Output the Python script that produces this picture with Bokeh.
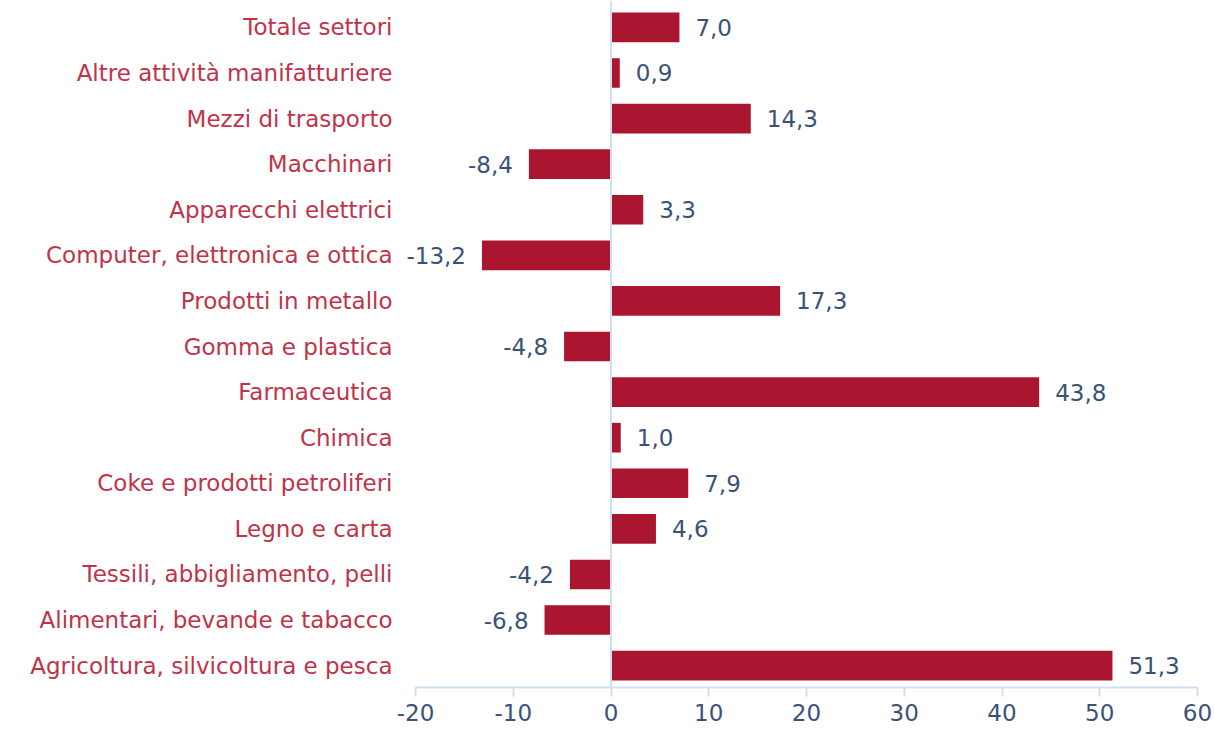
from bokeh.plotting import figure
from bokeh.models import ColumnDataSource, Span, FixedTicker, Range1d, LabelSet
from bokeh.core.properties import value
from bokeh.embed import file_html
from bokeh.resources import INLINE

categories = [
    "Totale settori",
    "Altre attività manifatturiere",
    "Mezzi di trasporto",
    "Macchinari",
    "Apparecchi elettrici",
    "Computer, elettronica e ottica",
    "Prodotti in metallo",
    "Gomma e plastica",
    "Farmaceutica",
    "Chimica",
    "Coke e prodotti petroliferi",
    "Legno e carta",
    "Tessili, abbigliamento, pelli",
    "Alimentari, bevande e tabacco",
    "Agricoltura, silvicoltura e pesca",
]
values = [7.0, 0.9, 14.3, -8.4, 3.3, -13.2, 17.3, -4.8, 43.8, 1.0, 7.9, 4.6, -4.2, -6.8, 51.3]
x_ticks = [-20, -10, 0, 10, 20, 30, 40, 50, 60]
x_tick_labels = ["-20", "-10", "0", "10", "20", "30", "40", "50", "60"]

FONT = "DejaVu Sans"
FS = "23px"
BAR = "#AA1630"
CAT = "#C0334A"
VAL = "#3B5277"
AXIS = "#CFE0F3"

n = len(categories)
ypos = [n - 1 - i for i in range(n)]

fmt = [("%.1f" % v).replace(".", ",") for v in values]
pos_idx = [i for i, v in enumerate(values) if v >= 0]
neg_idx = [i for i, v in enumerate(values) if v < 0]

src = ColumnDataSource(dict(y=ypos, v=values, label=fmt))
src_pos = ColumnDataSource(dict(y=[ypos[i] for i in pos_idx], v=[values[i] for i in pos_idx], label=[fmt[i] for i in pos_idx]))
src_neg = ColumnDataSource(dict(y=[ypos[i] for i in neg_idx], v=[values[i] for i in neg_idx], label=[fmt[i] for i in neg_idx]))

# extra room on the left of the frame so that negative value labels are not clipped
extra = 12 / 97.75 * 10
p = figure(width=1212, height=728, output_backend="svg", toolbar_location=None,
           x_range=Range1d(x_ticks[0] - extra, x_ticks[-1]), y_range=Range1d(-0.48, n - 1 + 0.59),
           min_border_left=403, min_border_right=15, min_border_top=0, min_border_bottom=41)
p.outline_line_color = None
p.background_fill_color = "white"
p.border_fill_color = "white"

p.hbar(y="y", right="v", left=0, height=0.65, source=src, fill_color=BAR, line_color=None)

p.add_layout(Span(location=0, dimension="height", line_color=AXIS, line_width=2))

p.add_layout(LabelSet(x="v", y="y", text="label", source=src_pos, x_offset=16, text_align="left",
                      text_baseline="middle", text_color=VAL, text_font=value(FONT), text_font_size=value(FS)))
p.add_layout(LabelSet(x="v", y="y", text="label", source=src_neg, x_offset=-16, text_align="right",
                      text_baseline="middle", text_color=VAL, text_font=value(FONT), text_font_size=value(FS)))

p.xgrid.visible = False
p.ygrid.visible = False

xa = p.xaxis[0]
xa.ticker = FixedTicker(ticks=x_ticks)
xa.bounds = (x_ticks[0], x_ticks[-1])
xa.major_label_overrides = {t: l for t, l in zip(x_ticks, x_tick_labels)}
xa.axis_line_color = AXIS
xa.axis_line_width = 2
xa.major_tick_line_color = AXIS
xa.major_tick_line_width = 2
xa.major_tick_in = 0
xa.major_tick_out = 9
xa.minor_tick_line_color = None
xa.major_label_text_color = VAL
xa.major_label_text_font = FONT
xa.major_label_text_font_size = FS
xa.major_label_standoff = 7

ya = p.yaxis[0]
ya.ticker = FixedTicker(ticks=ypos)
ya.major_label_overrides = {ypos[i]: categories[i] for i in range(n)}
ya.axis_line_color = None
ya.major_tick_line_color = None
ya.minor_tick_line_color = None
ya.major_label_text_color = CAT
ya.major_label_text_font = FONT
ya.major_label_text_font_size = FS
ya.major_label_standoff = 5

open("out.html", "w").write(file_html(p, INLINE))
